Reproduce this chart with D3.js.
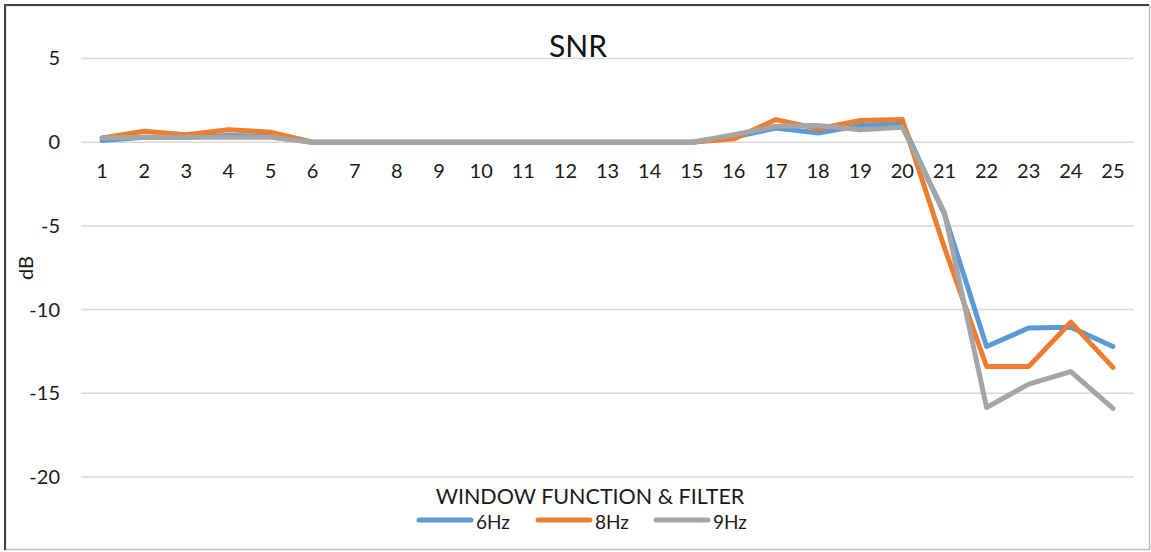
<!DOCTYPE html>
<html>
<head>
<meta charset="utf-8">
<script src="https://cdn.jsdelivr.net/npm/d3@7/dist/d3.min.js"></script>
<style>
  body { margin: 0; background: #fff; }
  svg { display: block; font-family: Lato, "Open Sans", sans-serif; }
</style>
</head>
<body>
<svg id="chart" width="1151" height="552"></svg>
<script>
// 数据
const categories = d3.range(1, 26).map(String)
const seriesNames = ['6Hz', '8Hz', '9Hz']
const hz6 = [0.1, 0.3, 0.3, 0.4, 0.35, 0, 0, 0, 0, 0, 0, 0, 0, 0, 0, 0.3, 0.85, 0.55, 1.0, 1.1, -4.3, -12.2, -11.1, -11.05, -12.2]
const hz8 = [0.25, 0.65, 0.45, 0.75, 0.6, 0, 0, 0, 0, 0, 0, 0, 0, 0, 0, 0.2, 1.35, 0.8, 1.3, 1.35, -6.3, -13.4, -13.4, -10.75, -13.45]
const hz9 = [0.25, 0.3, 0.3, 0.3, 0.3, 0, 0, 0, 0, 0, 0, 0, 0, 0, 0, 0.45, 0.95, 1.0, 0.75, 0.9, -4.2, -15.85, -14.45, -13.7, -15.9]
const yTicks = [5, 0, -5, -10, -15, -20]
const colors = ['#5B9BD5', '#ED7D31', '#A5A5A5']

const svg = d3.select('#chart')
const W = 1151, H = 552
const plot = { left: 81, right: 1134, top: 58.5, bottom: 477 }

// 外框
svg.append('rect').attr('x', 5.5).attr('y', 5.5).attr('width', W - 7).attr('height', H - 8)
    .attr('fill', '#fff').attr('stroke', '#bdbdbd').attr('stroke-width', 1.5)
svg.append('path').attr('d', `M5,${H - 2} V5 H${W - 2}`)
    .attr('fill', 'none').attr('stroke', '#444').attr('stroke-width', 2)

const x = d3.scaleBand().domain(categories).range([plot.left, plot.right])
const y = d3.scaleLinear().domain([-20, 5]).range([plot.bottom, plot.top])

// 网格线
svg.append('g').selectAll('line').data(yTicks).join('line')
    .attr('x1', plot.left).attr('x2', plot.right)
    .attr('y1', (d) => y(d)).attr('y2', (d) => y(d))
    .attr('stroke', '#d9d9d9').attr('stroke-width', 1.5)

// y轴刻度
const yAxis = svg.append('g').attr('transform', `translate(${plot.left - 21},0)`)
    .call(d3.axisLeft(y).tickValues(yTicks).tickSize(0).tickPadding(0).tickFormat((d) => d < 0 ? '-' + Math.abs(d) : d))
yAxis.select('.domain').remove()
yAxis.selectAll('text').attr('font-size', '20px').attr('fill', '#1a1a1a').attr('font-family', 'Lato, sans-serif')

// x轴刻度 (贴着0线)
const xAxis = svg.append('g').attr('transform', `translate(0,${y(0) + 22})`)
    .call(d3.axisBottom(x).tickSize(0).tickPadding(0))
xAxis.select('.domain').remove()
xAxis.selectAll('text').attr('font-size', '20px').attr('fill', '#1a1a1a').attr('font-family', 'Lato, sans-serif')

// 折线
const line = d3.line().x((d, i) => x(categories[i]) + x.bandwidth() / 2).y((d) => y(d))
const allSeries = [hz6, hz8, hz9]
svg.append('g').selectAll('path').data(allSeries).join('path')
    .attr('d', line)
    .attr('fill', 'none')
    .attr('stroke', (d, i) => colors[i])
    .attr('stroke-width', 5)
    .attr('stroke-linejoin', 'round')
    .attr('stroke-linecap', 'round')

// 标题
svg.append('text').text('SNR')
    .attr('x', 578).attr('y', 57)
    .attr('text-anchor', 'middle').attr('font-size', '30px').attr('fill', '#111')

// y轴标题
svg.append('text').text('dB')
    .attr('transform', 'translate(33,268) rotate(-90)')
    .attr('text-anchor', 'middle').attr('font-size', '20px').attr('fill', '#1a1a1a')

// 图例
svg.append('text').text('WINDOW FUNCTION & FILTER')
    .attr('x', 590).attr('y', 504)
    .attr('text-anchor', 'middle').attr('font-size', '21.5px').attr('fill', '#1a1a1a')

const legendX = [419, 538, 656]
const legend = svg.append('g').selectAll('g').data(seriesNames).join('g')
    .attr('transform', (d, i) => `translate(${legendX[i]},520)`)
legend.append('line')
    .attr('x1', 0).attr('x2', 52)
    .attr('stroke', (d, i) => colors[i]).attr('stroke-width', 5).attr('stroke-linecap', 'round')
legend.append('text').text((d) => d)
    .attr('x', 57).attr('y', 9)
    .attr('font-size', '19px').attr('fill', '#1a1a1a')
</script>
</body>
</html>
